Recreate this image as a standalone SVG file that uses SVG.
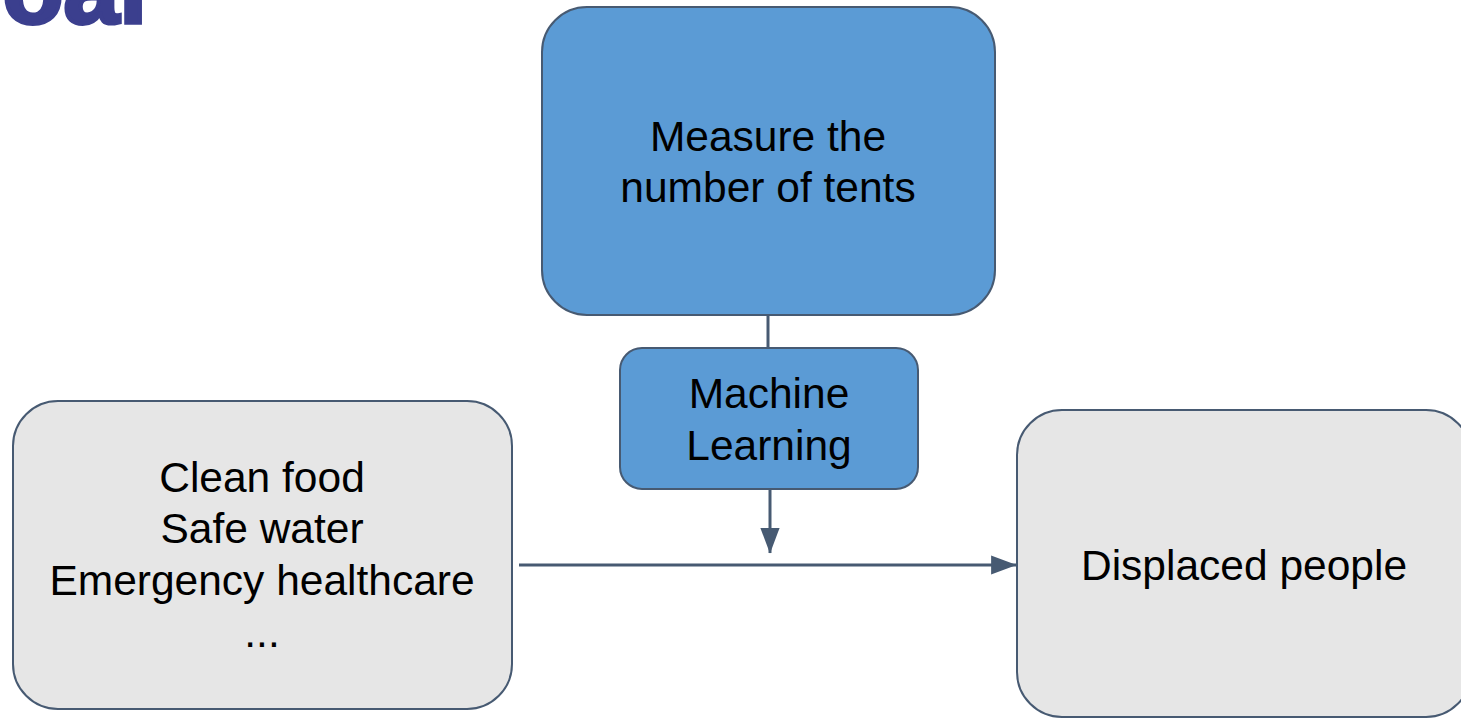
<svg xmlns="http://www.w3.org/2000/svg" width="1461" height="718" viewBox="0 0 1461 718">
<defs>
<style>
.box{stroke:#475a72;stroke-width:2}
.blue{fill:#5b9bd5}
.gray{fill:#e6e6e6}
.lbl{font-family:"Liberation Sans",Arial,sans-serif;font-size:42.5px;fill:#000;text-anchor:middle}
.conn{stroke:#475a72;stroke-width:3;fill:none}
</style>
<marker id="arr" markerWidth="8.5" markerHeight="6.4" refX="8.3" refY="3.2" orient="auto" markerUnits="strokeWidth">
<path d="M0,0 L8.5,3.2 L0,6.4 Z" fill="#475a72"/>
</marker>
</defs>
<rect width="1461" height="718" fill="#ffffff"/>
<g id="title">
<text x="147" y="23" font-family="'Liberation Sans',Arial,sans-serif" font-weight="bold" font-size="100" fill="#3b3f8e" stroke="#3b3f8e" stroke-width="4" text-anchor="end">Goal</text>
</g>
<g id="connectors">
<line class="conn" x1="768" y1="316" x2="768" y2="348"/>
<line class="conn" x1="770" y1="489" x2="770" y2="553" marker-end="url(#arr)"/>
<line class="conn" x1="519" y1="565" x2="1016" y2="565" marker-end="url(#arr)"/>
</g>
<g id="node-measure">
<rect class="box blue" x="542" y="7" width="453" height="308" rx="45" ry="45"/>
<text class="lbl" x="768" y="151">Measure the</text>
<text class="lbl" x="768" y="202">number of tents</text>
</g>
<g id="node-ml">
<rect class="box blue" x="620" y="348" width="298" height="141" rx="22" ry="22"/>
<text class="lbl" x="769" y="408">Machine</text>
<text class="lbl" x="769" y="460">Learning</text>
</g>
<g id="node-services">
<rect class="box gray" x="13" y="401" width="499" height="308" rx="45" ry="45"/>
<text class="lbl" x="262" y="492">Clean food</text>
<text class="lbl" x="262" y="543">Safe water</text>
<text class="lbl" x="262" y="595">Emergency healthcare</text>
<text class="lbl" x="262" y="647">...</text>
</g>
<g id="node-displaced">
<rect class="box gray" x="1017" y="410" width="454" height="307" rx="45" ry="45"/>
<text class="lbl" x="1244" y="580">Displaced people</text>
</g>
</svg>
